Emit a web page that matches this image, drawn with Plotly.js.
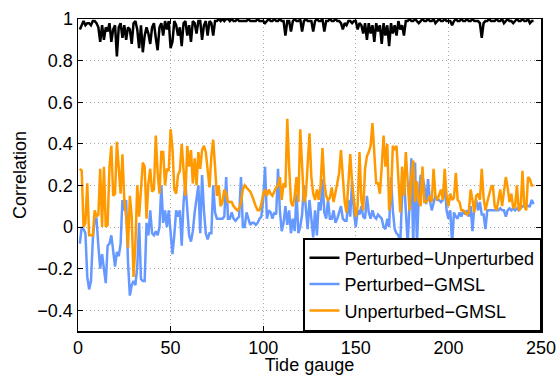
<!DOCTYPE html>
<html>
<head>
<meta charset="utf-8">
<script src="https://cdn.plot.ly/plotly-3.0.1.min.js"></script>
<style>html,body{margin:0;padding:0;background:#fff;}#chart{width:560px;height:375px;}</style>
</head>
<body>
<div id="chart"></div>
<script>
// Series names
const seriesNames = ["Perturbed\u2212Unperturbed", "Perturbed\u2212GMSL", "Unperturbed\u2212GMSL"];
// Tick labels
const xTicks = [0, 50, 100, 150, 200, 250];
const yTicks = [-0.4, -0.2, 0, 0.2, 0.4, 0.6, 0.8, 1];
const yTickText = ["\u22120.4", "\u22120.2", "0", "0.2", "0.4", "0.6", "0.8", "1"];

// Perturbed-Unperturbed correlation per tide gauge (1..246)
const pertUnpert = [
0.95,0.97,0.99,0.97,0.98,0.98,0.97,0.99,0.99,0.98,
0.96,0.89,0.97,0.90,0.96,0.94,0.98,0.89,0.95,0.97,
0.82,0.96,0.98,0.91,0.97,0.90,0.96,0.95,0.88,0.98,
0.99,0.95,0.86,0.97,0.84,0.92,0.96,0.93,0.88,0.96,
0.98,0.91,0.85,0.96,0.98,0.92,0.99,0.95,0.99,0.86,
0.89,0.99,0.97,0.92,0.96,0.87,0.98,0.99,0.92,0.97,
0.89,0.99,0.98,0.93,0.99,0.99,0.90,0.97,0.99,0.92,
0.99,0.98,0.92,0.99,0.99,1.00,0.99,1.00,0.99,1.00,
1.00,0.99,1.00,0.99,0.99,1.00,0.99,0.99,0.99,0.99,
0.99,1.00,0.99,0.99,0.99,0.99,1.00,0.99,0.99,0.99,
0.98,0.99,1.00,0.99,0.99,1.00,0.99,0.99,1.00,0.99,
0.99,0.92,0.99,0.99,0.94,0.99,1.00,0.99,0.99,1.00,
0.94,0.99,1.00,0.99,0.99,0.99,0.94,0.99,1.00,0.99,
0.99,1.00,0.94,0.99,0.99,1.00,0.99,0.99,1.00,0.99,
0.99,0.98,0.95,0.98,0.97,0.99,0.99,0.98,0.99,0.99,
0.95,0.98,0.97,0.93,0.98,0.90,0.98,0.93,0.97,0.89,
0.98,0.94,0.97,0.88,0.98,0.92,0.97,0.87,0.98,0.93,
0.97,0.92,0.99,0.95,0.97,0.92,0.99,0.99,1.00,0.99,
0.99,1.00,0.99,0.98,0.99,1.00,0.99,0.99,1.00,0.99,
0.99,1.00,0.98,0.99,1.00,0.99,0.99,1.00,0.99,0.99,
0.99,0.97,0.99,1.00,0.99,0.99,1.00,0.99,0.99,1.00,
0.99,0.99,1.00,0.99,0.99,0.99,0.98,0.91,0.98,0.99,
0.99,1.00,0.99,0.99,0.99,1.00,0.99,0.99,1.00,0.98,
0.99,1.00,0.99,0.99,0.98,0.99,1.00,0.99,0.99,1.00,
0.99,0.99,1.00,0.98,0.99,0.99
];

// Perturbed-GMSL correlation
const pertGMSL = [
-0.08,0.00,-0.01,-0.03,-0.24,-0.30,-0.26,-0.06,0.04,0.04,
-0.09,-0.20,-0.13,-0.19,-0.27,-0.09,-0.08,-0.04,-0.11,-0.19,
-0.12,-0.14,-0.08,0.13,0.08,0.13,-0.17,-0.33,-0.28,-0.26,
-0.28,-0.19,0.02,-0.25,-0.26,-0.26,0.02,-0.04,0.08,-0.03,
-0.04,-0.02,-0.04,0.00,0.20,0.02,0.08,0.00,0.08,-0.04,
-0.13,-0.04,0.08,0.05,0.08,-0.09,0.12,0.21,0.10,-0.04,
-0.07,-0.02,0.07,0.15,0.20,-0.03,0.25,0.08,-0.03,-0.06,
-0.03,-0.03,0.20,0.07,0.04,0.04,0.04,0.04,0.05,0.24,
0.04,0.04,0.07,0.04,0.03,0.04,0.05,0.24,0.00,0.00,
0.07,0.04,0.01,0.02,0.02,0.01,0.02,0.04,0.05,0.13,
0.29,0.04,0.08,0.07,0.04,0.07,0.06,0.28,0.08,-0.02,
0.02,0.10,0.01,0.08,-0.03,0.04,-0.02,0.16,-0.03,0.00,
0.06,0.20,0.10,-0.01,0.13,0.02,-0.05,0.08,-0.04,0.12,
0.08,0.23,0.07,0.04,0.13,0.04,0.04,0.08,0.02,0.04,
0.07,0.10,0.04,0.03,0.03,0.13,0.05,0.22,0.07,0.00,
0.08,0.06,0.10,0.05,0.04,0.15,0.07,0.04,0.08,0.05,
0.04,0.06,0.05,0.04,0.00,-0.01,0.04,0.00,0.24,0.08,
-0.01,-0.03,-0.04,-0.08,0.15,0.24,0.08,-0.08,0.10,0.33,
-0.09,0.31,-0.09,0.15,0.25,0.24,0.20,0.11,0.23,0.13,
0.08,0.12,0.15,0.13,0.13,0.12,0.13,0.22,0.08,0.04,
0.08,-0.08,0.07,0.05,0.04,0.07,0.05,0.08,0.06,0.08,
0.05,0.10,-0.02,0.10,0.13,0.08,0.12,0.06,0.06,-0.01,
0.08,0.08,0.08,0.08,0.08,0.08,0.08,0.09,0.08,0.08,
0.05,0.08,0.09,0.08,0.09,0.08,0.09,0.08,0.09,0.10,
0.10,0.11,0.10,0.10,0.13,0.11
];

// Unperturbed-GMSL correlation
const unpertGMSL = [
0.28,0.27,0.00,0.02,0.21,-0.04,-0.04,-0.04,0.08,0.05,
0.06,0.28,0.00,0.29,0.00,0.01,0.29,0.39,0.15,0.16,
0.41,0.28,0.16,0.35,0.13,0.05,-0.10,0.15,0.05,-0.24,
-0.08,0.20,0.05,0.18,0.31,0.29,0.04,0.21,0.28,0.17,
0.18,0.44,0.26,0.16,0.36,0.36,0.20,0.28,0.27,0.47,
0.38,0.18,0.16,0.25,0.27,0.40,0.27,0.15,0.39,0.29,
0.37,0.21,0.33,0.20,0.36,0.28,0.37,0.39,0.36,0.28,
0.19,0.34,0.42,0.29,0.15,0.20,0.10,0.12,0.18,0.16,
0.12,0.12,0.12,0.10,0.09,0.08,0.09,0.12,0.18,0.20,
0.19,0.18,0.17,0.15,0.12,0.10,0.08,0.08,0.11,0.16,
0.18,0.15,0.18,0.16,0.15,0.17,0.19,0.20,0.24,0.13,
0.21,0.19,0.52,0.29,0.12,0.10,0.15,0.24,0.12,0.47,
0.29,0.12,0.15,0.29,0.45,0.24,0.16,0.13,0.18,0.13,
0.20,0.38,0.21,0.15,0.13,0.14,0.19,0.12,0.16,0.21,
0.26,0.37,0.24,0.12,0.07,0.21,0.35,0.21,0.14,0.05,
0.10,0.36,0.13,0.08,0.28,0.34,0.36,0.39,0.50,0.33,
0.21,0.21,0.16,0.29,0.44,0.29,0.40,0.08,0.15,0.39,
0.37,0.39,0.23,0.07,0.29,0.15,0.36,0.21,0.08,0.24,
0.32,0.12,0.22,0.13,0.10,0.29,0.12,0.12,0.13,0.15,
0.12,0.28,0.15,0.13,0.16,0.18,0.13,0.28,0.15,0.10,
0.16,0.13,0.14,0.26,0.13,0.12,0.08,0.08,0.07,0.06,
0.07,0.18,0.13,0.07,0.15,0.16,0.13,0.28,0.14,0.08,
0.12,0.15,0.19,0.20,0.10,0.08,0.13,0.18,0.10,0.17,
0.24,0.19,0.12,0.16,0.09,0.10,0.20,0.08,0.09,0.27,
0.10,0.08,0.24,0.23,0.20,0.20
];

const colors = ["#000000", "#6699ff", "#ff9900"];
const allSeries = [pertUnpert, pertGMSL, unpertGMSL];

const traces = allSeries.map((ys, i) => ({
  type: "scatter",
  mode: "lines",
  name: seriesNames[i],
  y: ys,
  x0: 1,
  dx: 1,
  legendgroup: "g" + i,
  line: {color: colors[i], width: 2.5}
}));

const fontFam = "'Liberation Sans', Arial, Helvetica, sans-serif";
const axisCommon = {
  showline: true,
  linecolor: "#000",
  linewidth: 1.5,
  mirror: "ticks",
  ticks: "inside",
  ticklen: 5,
  tickwidth: 1,
  tickcolor: "#000",
  showgrid: true,
  gridcolor: "#a8a8a8",
  gridwidth: 1,
  griddash: "1px,3px",
  zeroline: false,
  tickfont: {family: fontFam, size: 18, color: "#000"}
};

const layout = {
  width: 560,
  height: 375,
  margin: {l: 78, r: 19, t: 19, b: 44},
  paper_bgcolor: "#fff",
  plot_bgcolor: "#fff",
  font: {family: fontFam, size: 18, color: "#000"},
  showlegend: true,
  legend: {
    x: 1, y: 0, xanchor: "right", yanchor: "bottom",
    bgcolor: "#fff", bordercolor: "#000", borderwidth: 1.5,
    font: {family: fontFam, size: 18, color: "#000"},
    traceorder: "grouped",
    tracegroupgap: 0
  },
  xaxis: Object.assign({}, axisCommon, {
    range: [0, 250],
    tickvals: xTicks,
    ticktext: xTicks.map(String),
    title: {text: "Tide gauge", font: {family: fontFam, size: 18, color: "#000"}, standoff: 0}
  }),
  yaxis: Object.assign({}, axisCommon, {
    range: [-0.5, 1],
    tickvals: yTicks,
    ticktext: yTickText,
    title: {text: "Correlation", font: {family: fontFam, size: 18, color: "#000"}, standoff: 6}
  })
};

Plotly.newPlot("chart", traces, layout, {staticPlot: true, displayModeBar: false});
</script>
</body>
</html>
